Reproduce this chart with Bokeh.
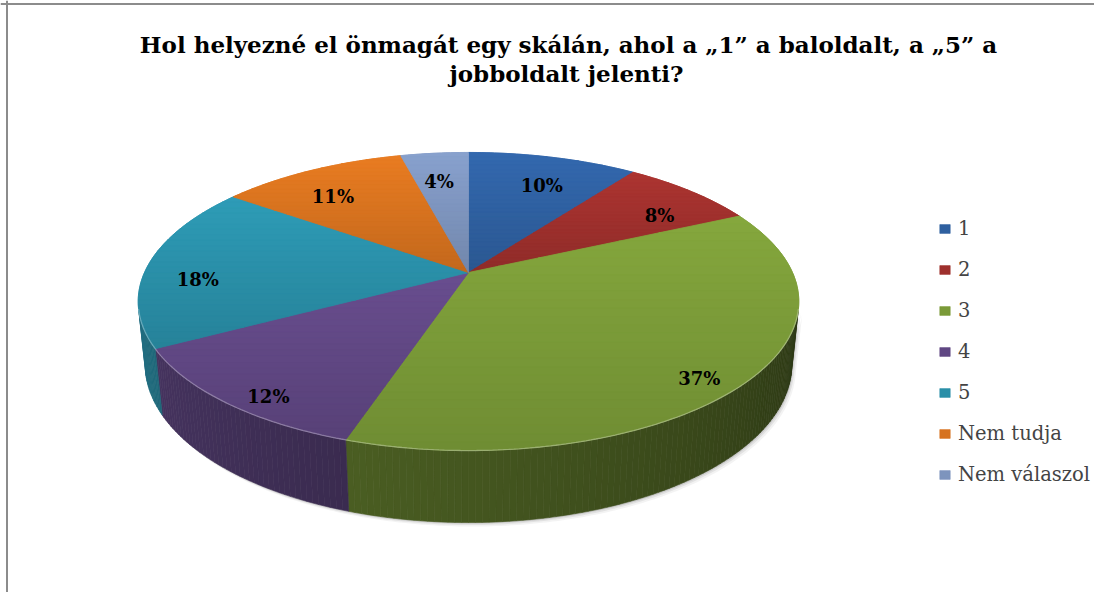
import numpy as np
from bokeh.plotting import figure
from bokeh.models import Range1d, ColumnDataSource, Legend, LegendItem, Span
from bokeh.core.properties import value
from bokeh.embed import file_html
from bokeh.resources import INLINE

# ---------------- data ----------------
categories = ["1", "2", "3", "4", "5", "Nem tudja", "Nem válaszol"]
shares = [10, 8, 37, 12, 18, 11, 4]
pct_labels = ["10%", "8%", "37%", "12%", "18%", "11%", "4%"]
top_colors = ["#2F60A0", "#9E302D", "#7A9A38", "#604783", "#2A8FA8", "#D6721F", "#7D94BD"]
title_lines = ["Hol helyezné el önmagát egy skálán, ahol a „1” a baloldalt, a „5” a",
               "jobboldalt jelenti?"]

# ---------------- layout / projection ----------------
W, H = 1094, 592
CX, CY = 468.0, 272.0          # apex of the pie (px)
F = 324.0                      # focal scale
SIN_A = 0.4426
COS_A = float(np.sqrt(1 - SIN_A ** 2))
KP = 0.217
DEPTH = 0.2175
FONT = "DejaVu Serif"


def proj(u, v, z):
    u = np.asarray(u, float); v = np.asarray(v, float); z = np.asarray(z, float)
    w = 1 + KP * (COS_A * v - SIN_A * z)
    return CX + F * u / w, CY - F * (SIN_A * v + COS_A * z) / w


def rim(t_deg, z, r=1.0):
    t = np.radians(t_deg)
    return proj(r * np.sin(t), r * np.cos(t), np.full_like(t, z))


def shade(hexcol, f):
    h = hexcol.lstrip("#")
    rgb = [int(h[i:i + 2], 16) for i in (0, 2, 4)]
    return "#" + "".join(f"{max(0, min(255, int(round(c * f)))):02x}" for c in rgb)


def clip_half(pts, yc, keep_above):
    out = []
    n = len(pts)
    for k in range(n):
        a, b = pts[k], pts[(k + 1) % n]
        ina = (a[1] >= yc) if keep_above else (a[1] <= yc)
        inb = (b[1] >= yc) if keep_above else (b[1] <= yc)
        if ina:
            out.append(a)
        if ina != inb:
            t = (yc - a[1]) / (b[1] - a[1])
            out.append((a[0] + t * (b[0] - a[0]), yc))
    return out


total = float(sum(shares))
edges = np.concatenate([[0.0], np.cumsum(shares) / total * 360.0])

p = figure(width=W, height=H, x_range=Range1d(0, W), y_range=Range1d(H, 0),
           output_backend="svg", toolbar_location=None, min_border=0)
p.axis.visible = False
p.grid.visible = False
p.outline_line_color = None
p.background_fill_color = "white"

# border (left & top only, as in the reference)
p.add_layout(Span(location=6.5, dimension="height", line_color="#8c8c8c", line_width=2))
p.add_layout(Span(location=3.5, dimension="width", line_color="#8c8c8c", line_width=2))

# silhouette angle of the visible wall
ts = float(np.degrees(np.arccos(-KP / COS_A)))
te = 360.0 - ts

# soft shadow
tt = np.linspace(ts, te, 200)
tx, ty = rim(tt, 0.0)
bx, by = rim(tt[::-1], -DEPTH)
for off, a in [(4, 0.08), (2.5, 0.12), (1.2, 0.18)]:
    p.patch(list(np.concatenate([tx, bx]) + off), list(np.concatenate([ty, by]) + off),
            fill_color="#606060", fill_alpha=a, line_color=None)

# walls (strips with angle dependent shading)
wx, wy, wc = [], [], []
for i in range(len(shares)):
    lo, hi = max(edges[i], ts), min(edges[i + 1], te)
    if lo >= hi:
        continue
    n = max(2, int(np.ceil((hi - lo) / 1.0)) + 1)
    tgrid = np.linspace(lo, hi, n)
    for t1, t2 in zip(tgrid[:-1], tgrid[1:]):
        x1, y1 = rim(np.array([t1, t2]), 0.0)
        x2, y2 = rim(np.array([t2, t1]), -DEPTH)
        tm = 0.5 * (t1 + t2)
        f = 0.36 + 0.40 * (tm - ts) / (te - ts)
        wx.append(list(np.concatenate([x1, x2])))
        wy.append(list(np.concatenate([y1, y2])))
        wc.append(shade(top_colors[i], f))
p.patches(wx, wy, fill_color=wc, line_color=wc, line_width=0.6)

# top faces (legend source, solid) + vertical gradient bands per slice
xs, ys = [], []
gx, gy, gc = [], [], []
NB = 28
for i in range(len(shares)):
    tgrid = np.linspace(edges[i], edges[i + 1], max(3, int(shares[i] * 4)))
    x, y = rim(tgrid, 0.0)
    px = [CX] + list(x)
    py = [CY] + list(y)
    xs.append(px)
    ys.append(py)
    ymin, ymax = min(py), max(py)
    bands = np.linspace(ymin, ymax, NB + 1)
    poly = list(zip(px, py))
    for b in range(NB):
        piece = clip_half(poly, bands[b], True)
        if len(piece) < 3:
            continue
        piece = clip_half(piece, bands[b + 1], False)
        if len(piece) < 3:
            continue
        frac = (b + 0.5) / NB
        gx.append([q[0] for q in piece])
        gy.append([q[1] for q in piece])
        gc.append(shade(top_colors[i], 1.09 - 0.18 * frac))
src = ColumnDataSource(dict(xs=xs, ys=ys, color=top_colors, cat=categories))
r_top = p.patches("xs", "ys", source=src, fill_color="color", line_color="color", line_width=0.6)
p.patches(gx, gy, fill_color=gc, line_color=gc, line_width=0.8)

# rim highlight
hx, hy = rim(np.linspace(ts, te, 200), 0.0)
p.line(list(hx), list(hy), line_color="white", line_alpha=0.3, line_width=1.3)

# percentage labels
mids = np.radians(0.5 * (edges[:-1] + edges[1:]))
lx, ly = proj(0.85 * np.sin(mids), 0.85 * np.cos(mids), np.full(len(mids), -0.05))
p.text(list(lx), list(ly), text=pct_labels, text_align="center", text_baseline="middle",
       text_font=value(FONT), text_font_style="bold", text_font_size="18px", text_color="black")

# title
p.text([568, 566], [44, 73], text=title_lines, text_align="center", text_baseline="middle",
       text_font=value(FONT), text_font_style="bold", text_font_size="23px", text_color="black")

# legend
items = [LegendItem(label=c, renderers=[r_top], index=i) for i, c in enumerate(categories)]
legend = Legend(items=items, location=(938, 106), padding=0, margin=0, spacing=18,
                label_height=23, glyph_height=11, glyph_width=13, label_standoff=7,
                label_text_font=FONT, label_text_font_size="19.5px",
                border_line_color=None, background_fill_alpha=0)
p.add_layout(legend)

open("out.html", "w").write(file_html(p, INLINE))
